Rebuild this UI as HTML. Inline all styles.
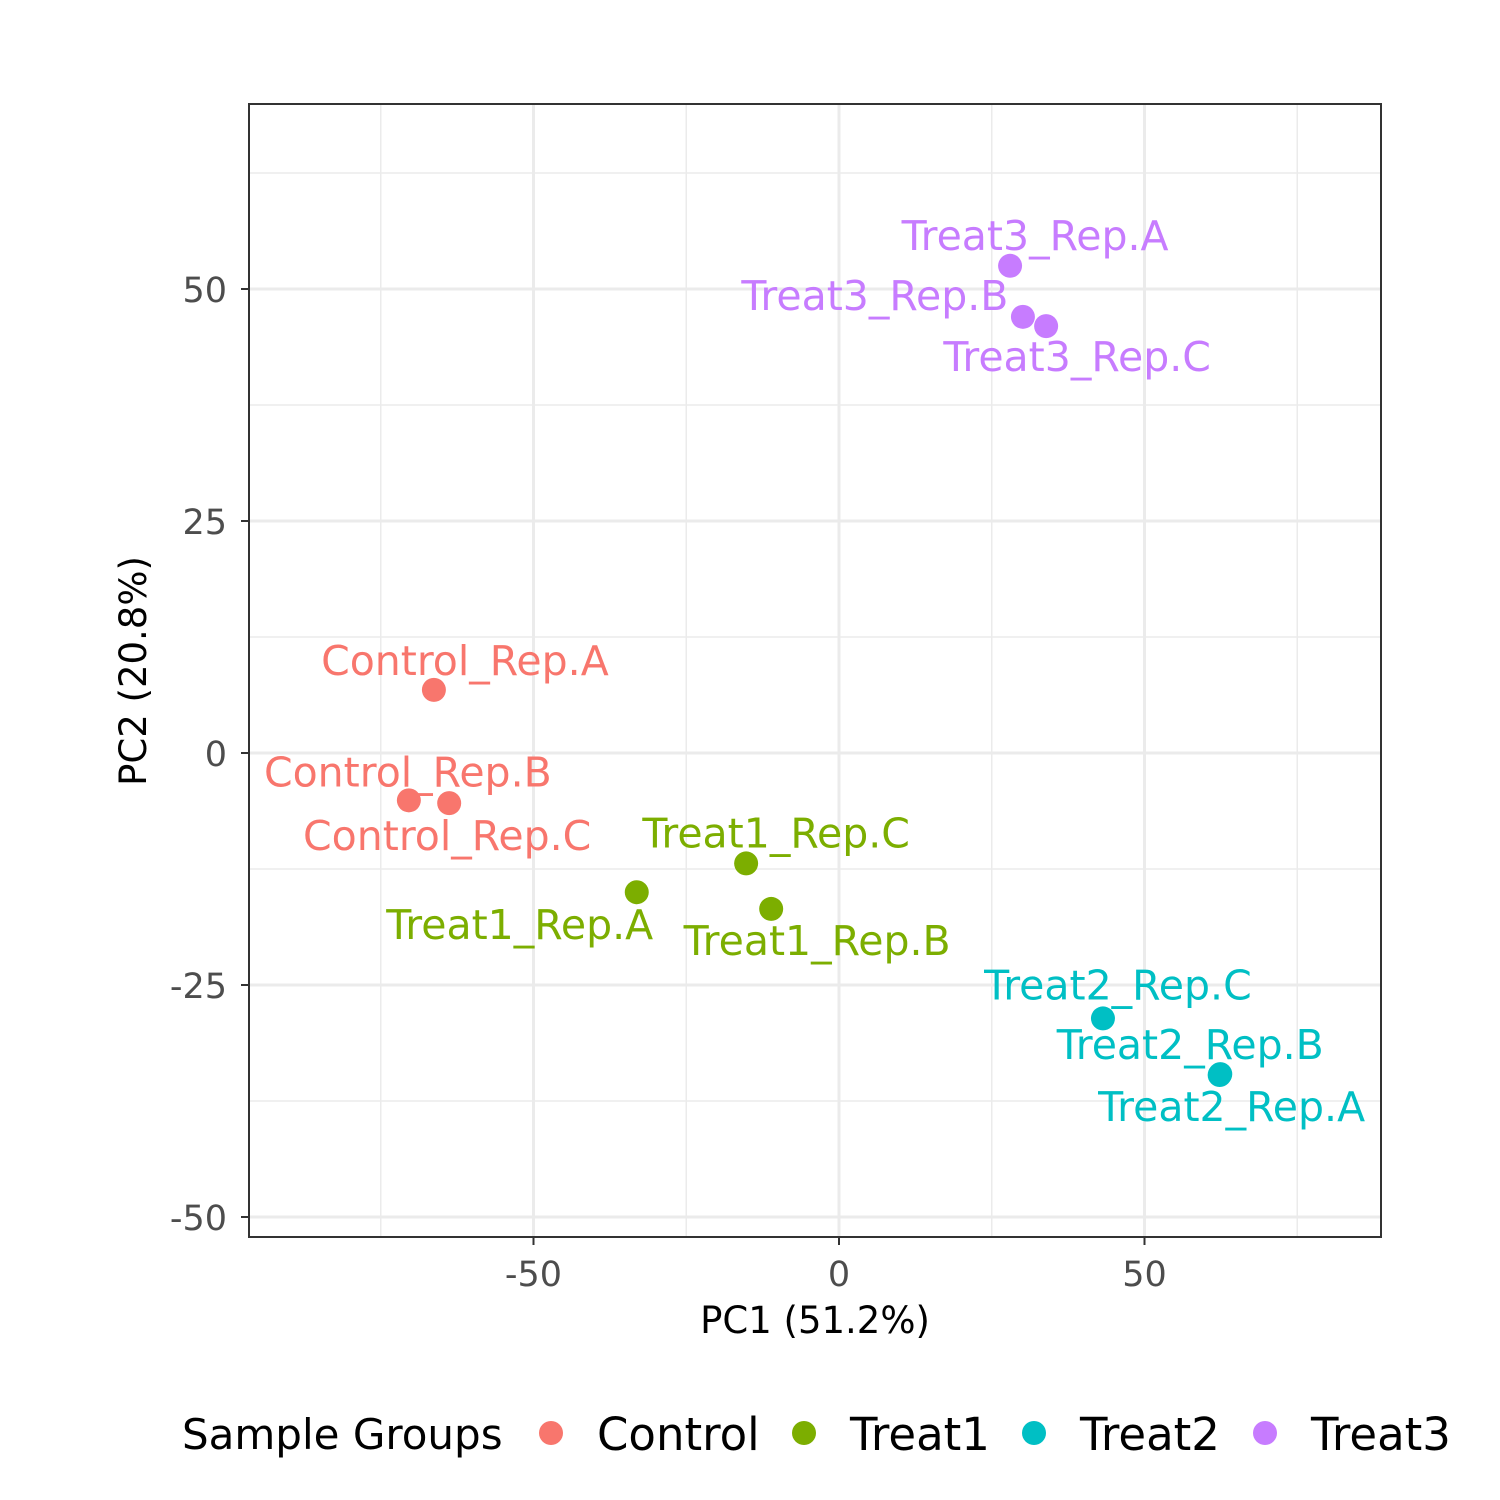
<!DOCTYPE html>
<html><head><meta charset="utf-8"><style>
html,body{margin:0;padding:0;background:#fff;}
svg{display:block;font-family:"DejaVu Sans","Liberation Sans",sans-serif;}
</style></head><body>
<svg id="chart" width="1500" height="1500" viewBox="0 0 1500 1500">
<rect width="1500" height="1500" fill="#fff"/>
<g id="grid"></g><g id="pts"></g><g id="labs"></g><g id="axes"></g>
<rect x="249" y="104" width="1132" height="1133" fill="none" stroke="#333" stroke-width="2"/>
<text x="815" y="1333" font-size="37" text-anchor="middle" fill="#000">PC1 (51.2%)</text>
<text transform="translate(146,671) rotate(-90)" font-size="37" text-anchor="middle" fill="#000">PC2 (20.8%)</text>
<g id="legend"></g>
</svg>
<script>
const samples=["Control_Rep.A","Control_Rep.B","Control_Rep.C","Treat1_Rep.A","Treat1_Rep.B","Treat1_Rep.C","Treat2_Rep.A","Treat2_Rep.B","Treat2_Rep.C","Treat3_Rep.A","Treat3_Rep.B","Treat3_Rep.C"];
const groups=["Control","Control","Control","Treat1","Treat1","Treat1","Treat2","Treat2","Treat2","Treat3","Treat3","Treat3"];
const pc1=[-66.3,-70.4,-63.8,-33.1,-11.1,-15.2,62.3,62.4,43.2,28.0,30.1,33.9];
const pc2=[6.8,-5.1,-5.4,-15.0,-16.8,-11.9,-34.7,-34.6,-28.6,52.5,47.0,46.0];
const groupNames=["Control","Treat1","Treat2","Treat3"];
const groupColors=["#F8766D","#7CAE00","#00BFC4","#C77CFF"];
const xTicks=[-50,0,50];
const yTicks=[-50,-25,0,25,50];
const xMinor=[-75,-25,25,75];
const yMinor=[-37.5,-12.5,12.5,37.5,62.5];
// label placement offsets (pixels) — styling, not data
const labDx=[31,-1,-2,-117,46,30,12,-30,15,25,-148,31];
const labDy=[-15,-14,47,47,46,-16,46,-15,-19,-16,-7,45];

const sx=v=>839+v*6.11, sy=v=>753-v*9.28;
const NS="http://www.w3.org/2000/svg";
function mk(tag,attrs,parent){const e=document.createElementNS(NS,tag);for(const k in attrs)e.setAttribute(k,attrs[k]);parent.appendChild(e);return e;}
const grid=document.getElementById('grid'),axes=document.getElementById('axes');
xMinor.forEach(v=>{const l=mk('line',{x1:sx(v),x2:sx(v),y1:104,y2:1237,stroke:'#ebebeb','stroke-width':1.5},grid);

});
yMinor.forEach(v=>{const l=mk('line',{x1:249,x2:1381,y1:sy(v),y2:sy(v),stroke:'#ebebeb','stroke-width':1.5},grid);

});
xTicks.forEach(v=>{const l=mk('line',{x1:sx(v),x2:sx(v),y1:104,y2:1237,stroke:'#ebebeb','stroke-width':3},grid);


const t=mk('line',{x1:sx(v),x2:sx(v),y1:1237,y2:1245,stroke:'#333','stroke-width':2},axes);


const tx=mk('text',{x:sx(v),y:1286,'font-size':35,'text-anchor':'middle',fill:'#4d4d4d'},axes);tx.textContent=v;

});
yTicks.forEach(v=>{const l=mk('line',{x1:249,x2:1381,y1:sy(v),y2:sy(v),stroke:'#ebebeb','stroke-width':3},grid);


const t=mk('line',{x1:241,x2:249,y1:sy(v),y2:sy(v),stroke:'#333','stroke-width':2},axes);


const tx=mk('text',{x:227,y:sy(v)+13,'font-size':35,'text-anchor':'end',fill:'#4d4d4d'},axes);tx.textContent=v;

});
const pts=document.getElementById('pts'),labs=document.getElementById('labs');
samples.forEach((s,i)=>{const col=groupColors[groupNames.indexOf(groups[i])];
const c=mk('circle',{cx:sx(pc1[i]),cy:sy(pc2[i]),r:12,fill:col},pts);


const t=mk('text',{x:sx(pc1[i])+labDx[i],y:sy(pc2[i])+labDy[i],'font-size':41,'text-anchor':'middle',fill:col},labs);t.textContent=s;

});
const lg=document.getElementById('legend');
const lt=mk('text',{x:182,y:1449,'font-size':42,fill:'#000'},lg);lt.textContent='Sample Groups';


const keyX=[551,804,1034,1265];
groupNames.forEach((g,i)=>{const c=mk('circle',{cx:keyX[i],cy:1433,r:12,fill:groupColors[i]},lg);


const t=mk('text',{x:keyX[i]+46,y:1450,'font-size':45,fill:'#000'},lg);t.textContent=g;

});
</script>
</body></html>
